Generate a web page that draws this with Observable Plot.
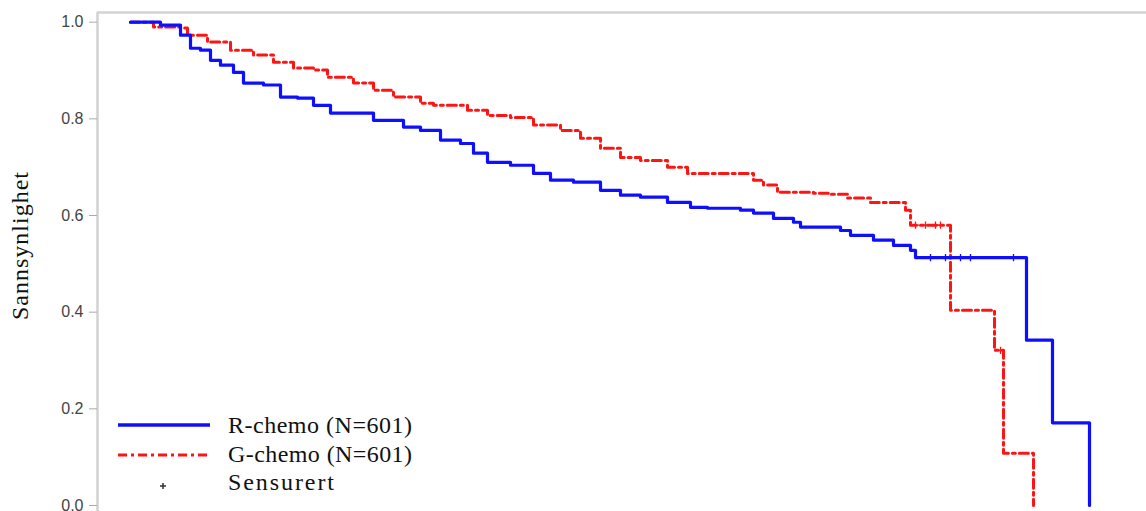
<!DOCTYPE html>
<html>
<head>
<meta charset="utf-8">
<script src="https://cdn.jsdelivr.net/npm/d3@7"></script>
<script src="https://cdn.jsdelivr.net/npm/@observablehq/plot@0.6"></script>
<style>
  html, body { margin: 0; padding: 0; background: #fff; }
  #wrap { position: relative; width: 1146px; height: 511px; overflow: hidden; }
  #wrap svg { display: block; }
  #overlay { position: absolute; left: 0; top: 0; pointer-events: none; }
</style>
</head>
<body>
<div id="wrap"></div>
<script>
// ---- Data ----
const groups = ["R-chemo (N=601)", "G-chemo (N=601)"];
const censorLabel = "Sensurert";
const yLabel = "Sannsynlighet";
const yTicks = [0.0, 0.2, 0.4, 0.6, 0.8, 1.0];

// R-chemo: time (months) and survival probability
const rTime = [0, 3.0, 5.0, 6.0, 7.0, 8.0, 9.0, 10.3, 11.3, 13.3, 15.0, 16.7, 18.3, 20.0, 22.3, 24.3, 27.3, 29.0, 31.0, 33.0, 34.3, 35.7, 38.0, 40.3, 42.0, 44.3, 47.0, 49.0, 51.0, 53.7, 56.0, 57.7, 61.0, 62.3, 64.3, 66.3, 67.0, 71.0, 72.0, 74.3, 76.3, 78.0, 78.5, 89.6, 92.2, 95.9];
const rSurv = [1.000, 0.994, 0.973, 0.946, 0.942, 0.921, 0.911, 0.896, 0.874, 0.870, 0.845, 0.843, 0.828, 0.812, 0.812, 0.797, 0.783, 0.776, 0.756, 0.749, 0.729, 0.710, 0.704, 0.687, 0.673, 0.669, 0.652, 0.642, 0.638, 0.627, 0.617, 0.615, 0.611, 0.605, 0.594, 0.586, 0.576, 0.569, 0.559, 0.549, 0.538, 0.528, 0.513, 0.342, 0.171, 0.000];
const rCensor = [80.0, 81.5, 83.0, 84.0, 88.3];

// G-chemo
const gTime = [0, 2.3, 5.0, 5.7, 7.7, 10.0, 12.3, 14.3, 16.3, 18.3, 19.7, 22.3, 24.3, 26.3, 29.0, 30.3, 33.7, 35.7, 38.0, 40.3, 43.0, 45.0, 47.0, 49.0, 51.0, 53.7, 55.7, 62.3, 63.3, 64.7, 68.3, 70.0, 71.7, 74.0, 77.5, 78.0, 82.0, 86.4, 87.3, 90.3];
const gSurv = [1.000, 0.990, 0.988, 0.973, 0.959, 0.942, 0.932, 0.917, 0.905, 0.901, 0.886, 0.874, 0.859, 0.845, 0.832, 0.828, 0.818, 0.807, 0.803, 0.787, 0.776, 0.760, 0.739, 0.720, 0.714, 0.700, 0.687, 0.673, 0.663, 0.648, 0.646, 0.644, 0.636, 0.627, 0.611, 0.580, 0.404, 0.321, 0.108, 0.000];
const gCensor = [78.5, 79.5, 80.5, 81.0, 87.0];

// ---- Build tables ----
const rData = rTime.map((t, i) => ({time: t, surv: rSurv[i], group: groups[0]}));
const gData = gTime.map((t, i) => ({time: t, surv: gSurv[i], group: groups[1]}));
function survAt(times, vals, t) {
  let v = vals[0];
  for (let i = 0; i < times.length; i++) if (times[i] <= t) v = vals[i];
  return v;
}
const rCens = rCensor.map(t => ({time: t, surv: survAt(rTime, rSurv, t)}));
const gCens = gCensor.map(t => ({time: t, surv: survAt(gTime, gSurv, t)}));

const blue = "#0f0fff";
const red = "#ff1414";
const xDomain = [-3.3, 101.6];
const yDomain = [-0.0124, 1.02];

const chart = Plot.plot({
  width: 1146,
  height: 511,
  marginLeft: 97,
  marginRight: 0,
  marginTop: 12,
  marginBottom: 0,
  x: {domain: xDomain, axis: null},
  y: {domain: yDomain, axis: null},
  style: {background: "#fff", fontFamily: "'Liberation Sans', Arial, sans-serif"},
  marks: [
    Plot.ruleX([xDomain[0]], {stroke: "#d2d2d2", strokeWidth: 2.5}),
    Plot.ruleY([yDomain[1]], {stroke: "#d2d2d2", strokeWidth: 2.5}),
    Plot.axisY({
      ticks: yTicks,
      tickFormat: d3.format(".1f"),
      tickSize: 8,
      tickPadding: 6,
      fontSize: 16,
      stroke: "#aaaaaa",
      fill: "#444444",
      label: null
    }),
    Plot.line(gData, {x: "time", y: "surv", curve: "step-after", stroke: red, strokeWidth: 3, strokeDasharray: "9,4,3,4"}),
    Plot.line(rData, {x: "time", y: "surv", curve: "step-after", stroke: blue, strokeWidth: 3.2}),
    Plot.dot(gCens, {x: "time", y: "surv", symbol: "plus", r: 2.5, stroke: red, strokeWidth: 1.3}),
    Plot.dot(rCens, {x: "time", y: "surv", symbol: "plus", r: 2.5, stroke: blue, strokeWidth: 1.3})
  ]
});

const wrap = document.getElementById("wrap");
wrap.appendChild(chart);

// Overlay: y label and legend
const ns = "http://www.w3.org/2000/svg";
const ov = document.createElementNS(ns, "svg");
ov.setAttribute("id", "overlay");
ov.setAttribute("width", 1146);
ov.setAttribute("height", 511);
ov.innerHTML = `
  <text transform="translate(28,246) rotate(-90)" text-anchor="middle"
        font-family="'Liberation Serif', 'Times New Roman', serif" font-size="24" fill="#111"
        textLength="148" lengthAdjust="spacing">${yLabel}</text>
  <line x1="118" x2="210" y1="425" y2="425" stroke="${blue}" stroke-width="3.5"/>
  <line x1="118" x2="210" y1="455" y2="455" stroke="${red}" stroke-width="3" stroke-dasharray="9,4,3,4"/>
  <path d="M160,486H166M163,483V489" stroke="#333" stroke-width="1.5"/>
  <g font-family="'Liberation Serif', 'Times New Roman', serif" font-size="24" fill="#111">
    <text x="228" y="433" textLength="184" lengthAdjust="spacing">${groups[0]}</text>
    <text x="228" y="462" textLength="184" lengthAdjust="spacing">${groups[1]}</text>
    <text x="228" y="490" textLength="106" lengthAdjust="spacing">${censorLabel}</text>
  </g>`;
wrap.appendChild(ov);
</script>
</body>
</html>
